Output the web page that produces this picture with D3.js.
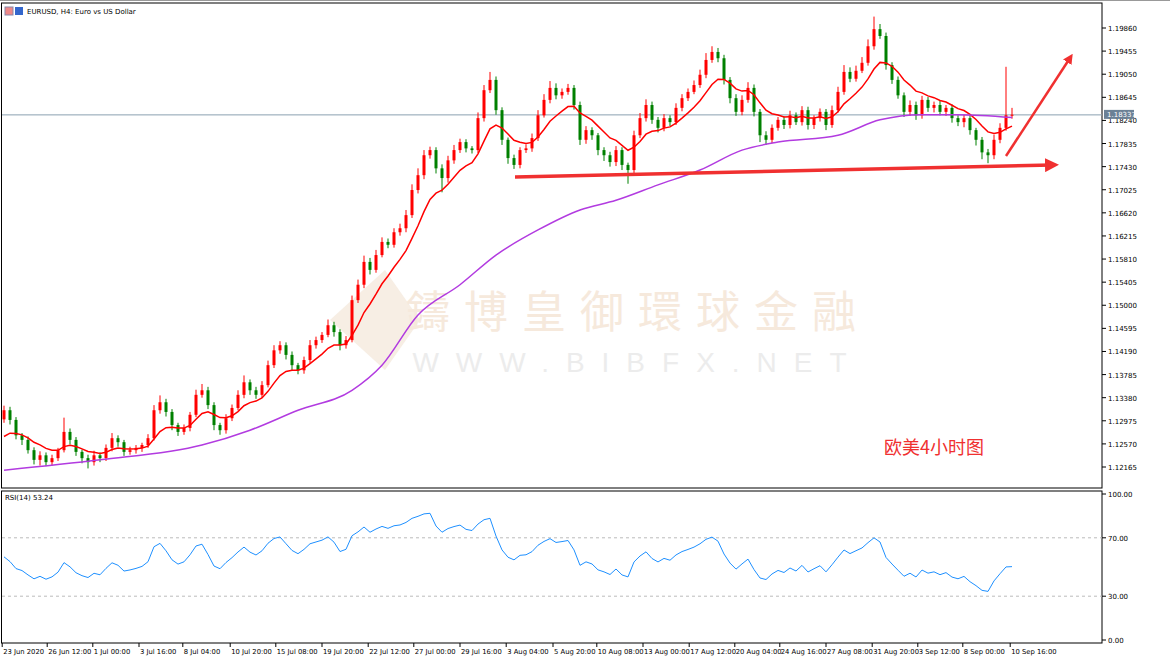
<!DOCTYPE html>
<html><head><meta charset="utf-8">
<script src="https://cdnjs.cloudflare.com/ajax/libs/d3/7.8.5/d3.min.js"></script>
<style>body{margin:0;background:#fff;}svg{display:block;font-family:Tahoma,"DejaVu Sans",sans-serif;}</style>
</head><body><svg id="chart" width="1170" height="657"></svg>
<script>
// closes (one bar per ~6 px)
const closes = [1.1316,1.1299,1.1272,1.1264,1.1246,1.1229,1.1237,1.1225,1.1232,1.1246,
1.1278,1.1264,1.1243,1.1232,1.1225,1.1237,1.1232,1.1250,1.1267,1.1260,
1.1243,1.1246,1.1250,1.1255,1.1267,1.1316,1.1330,1.1313,1.1290,1.1278,
1.1285,1.1308,1.1343,1.1351,1.1325,1.1290,1.1281,1.1302,1.1320,1.1343,
1.1365,1.1351,1.1343,1.1360,1.1395,1.1421,1.1430,1.1413,1.1395,1.1386,
1.1404,1.1430,1.1439,1.1448,1.1465,1.1453,1.1430,1.1439,1.1509,1.1536,
1.1576,1.1562,1.1588,1.1611,1.1606,1.1628,1.1635,1.1658,1.1702,1.1728,
1.1763,1.1772,1.1740,1.1723,1.1754,1.1772,1.1786,1.1775,1.1772,1.1828,
1.1877,1.1895,1.1842,1.1790,1.1758,1.1746,1.1772,1.1775,1.1793,1.1833,
1.1860,1.1881,1.1868,1.1874,1.1881,1.1851,1.1790,1.1807,1.1798,1.1772,
1.1763,1.1751,1.1772,1.1746,1.1737,1.1798,1.1828,1.1851,1.1825,1.1811,
1.1828,1.1821,1.1846,1.1863,1.1874,1.1886,1.1904,1.1930,1.1944,1.1933,
1.1895,1.1863,1.1839,1.1860,1.1881,1.1839,1.1798,1.1790,1.1811,1.1825,
1.1816,1.1833,1.1821,1.1842,1.1816,1.1828,1.1839,1.1816,1.1842,1.1874,
1.1909,1.1897,1.1911,1.1925,1.1954,1.1984,1.1972,1.1921,1.1895,1.1868,
1.1839,1.1851,1.1833,1.1860,1.1846,1.1851,1.1839,1.1846,1.1828,1.1821,
1.1828,1.1807,1.1790,1.1768,1.1763,1.1790,1.1811,1.1833,1.1834];
const firstOpen = 1.1300;
// wick lengths beyond the body, in pips
const wickUp = [8,6,5,4,6,5,7,5,6,4,25,6,5,4,6,8,5,6,9,5,4,6,5,4,7,9,12,6,5,4,6,5,9,11,6,5,4,7,6,8,
12,5,6,7,8,9,7,5,6,4,6,9,6,5,10,6,5,7,8,9,11,7,9,8,6,7,8,9,10,12,9,6,5,7,8,9,6,5,4,10,
9,14,6,5,4,6,5,7,8,9,10,12,8,6,7,5,6,7,5,4,5,6,7,5,4,8,9,10,6,5,7,5,8,7,6,8,9,12,10,7,
6,5,7,8,10,6,5,7,6,5,6,8,5,7,6,5,6,5,8,9,12,8,9,10,12,22,9,6,5,6,5,8,6,7,5,6,7,5,6,5,
6,5,4,5,6,9,8,85,12];
const wickDown = [6,8,7,9,6,8,10,7,6,5,4,8,7,9,11,6,7,5,6,8,7,5,6,7,5,4,6,8,9,7,5,6,4,5,7,9,8,6,5,4,
6,8,7,5,4,5,6,8,9,7,6,5,6,5,4,8,9,6,4,5,6,8,5,4,6,5,6,7,5,6,7,6,9,25,8,6,5,7,6,5,
6,5,8,9,10,7,6,5,6,5,4,6,7,6,5,8,9,7,8,9,10,8,7,9,24,6,5,6,7,8,6,7,5,6,5,4,5,6,5,7,
8,9,7,6,5,8,12,9,6,5,7,6,5,6,8,7,6,9,5,4,5,6,5,4,5,6,5,8,7,6,9,7,8,6,7,8,6,7,8,7,
9,8,10,12,14,7,6,5,6];
// purple slow MA: [bar index, price]
const slowMA = [[0,1.1211],[16,1.1229],[33,1.1255],[41,1.1281],[49,1.1316],[58,1.1351],[63,1.1395],
[69,1.1483],[76,1.1536],[82,1.1588],[89,1.1632],[96,1.1667],[102,1.1684],[109,1.1711],[116,1.1737],
[123,1.1772],[129,1.1786],[139,1.1798],[146,1.1825],[153,1.1834],[159,1.1834],[168,1.1829]];
const priceTicks = [1.19860,1.19455,1.19050,1.18645,1.18240,1.17835,1.17430,1.17025,1.16620,1.16215,
1.15810,1.15405,1.15000,1.14595,1.14190,1.13785,1.13380,1.12975,1.12570,1.12165];
// time labels: [bar index, text]
const timeLabels = [[-0.3,"23 Jun 2020"],[7.2,"26 Jun 12:00"],[14.8,"1 Jul 00:00"],[22.5,"3 Jul 16:00"],
[29.8,"8 Jul 04:00"],[37.7,"10 Jul 20:00"],[45.3,"15 Jul 08:00"],[53,"19 Jul 20:00"],[60.7,"22 Jul 12:00"],
[68.3,"27 Jul 00:00"],[76,"29 Jul 16:00"],[83.7,"3 Aug 04:00"],[91.5,"5 Aug 20:00"],[98.8,"10 Aug 08:00"],
[106.5,"13 Aug 00:00"],[114.2,"17 Aug 12:00"],[121.8,"20 Aug 04:00"],[129.3,"24 Aug 16:00"],[137,"27 Aug 08:00"],
[144.7,"31 Aug 20:00"],[152.3,"3 Sep 12:00"],[159.8,"8 Sep 00:00"],[167.7,"10 Sep 16:00"]];
const lastPrice = 1.18337;

const svg = d3.select("#chart");
const W = 1102, mainTop = 3, mainBot = 488, rsiTop = 491, rsiBot = 643;
const x = d3.scaleLinear().domain([0, 168]).range([4, 1012]);
const y = d3.scaleLinear().domain([1.12165, 1.19860]).range([467, 28]);
const yr = d3.scaleLinear().domain([0, 100]).range([640, 494]);

// watermark
svg.append("path").attr("d", "M330,320 L385,270 L420,320 L385,370 Z").attr("fill", "#f7eee4");
svg.append("text").attr("x", 638).attr("y", 328).attr("text-anchor", "middle")
  .attr("font-family", "Noto Sans CJK TC").attr("font-size", 44).attr("fill", "#f6e9dc")
  .attr("letter-spacing", 14).text("鑄博皇御環球金融");
svg.append("text").attr("x", 638).attr("y", 372).attr("text-anchor", "middle")
  .attr("font-family", "Arial, Liberation Sans").attr("font-size", 28).attr("fill", "#ececec")
  .attr("letter-spacing", 17).text("WWW.BIBFX.NET");

// frames
svg.append("rect").attr("x", 1.5).attr("y", mainTop).attr("width", W - 1.5).attr("height", mainBot - mainTop)
  .attr("fill", "none").attr("stroke", "#000");
svg.append("rect").attr("x", 1.5).attr("y", rsiTop).attr("width", W - 1.5).attr("height", rsiBot - rsiTop)
  .attr("fill", "none").attr("stroke", "#000");
svg.append("line").attr("x1", 0).attr("x2", 1170).attr("y1", 0.5).attr("y2", 0.5).attr("stroke", "#999");

// right price axis
const ax = svg.append("g").attr("font-size", 7).attr("fill", "#000");
priceTicks.forEach(p => {
  ax.append("line").attr("x1", W).attr("x2", W + 4).attr("y1", y(p)).attr("y2", y(p)).attr("stroke", "#000");
  ax.append("text").attr("x", W + 6).attr("y", y(p) + 3).text(p.toFixed(5));
});
[100, 70, 30, 0].forEach(v => {
  ax.append("line").attr("x1", W).attr("x2", W + 4).attr("y1", yr(v)).attr("y2", yr(v)).attr("stroke", "#000");
  ax.append("text").attr("x", W + 6).attr("y", yr(v) + 3).text(v.toFixed(2));
});
[70, 30].forEach(v => svg.append("line").attr("x1", 2).attr("x2", W).attr("y1", yr(v)).attr("y2", yr(v))
  .attr("stroke", "#bbb").attr("stroke-dasharray", "3,3"));

// bottom time axis
timeLabels.forEach(([i, t]) => {
  const px = x(i);
  svg.append("line").attr("x1", px).attr("x2", px).attr("y1", rsiBot).attr("y2", rsiBot + 4).attr("stroke", "#000");
  svg.append("text").attr("x", px + 1).attr("y", 654).attr("font-size", 6.8).text(t);
});

// last price line
svg.append("line").attr("x1", 2).attr("x2", W).attr("y1", y(lastPrice)).attr("y2", y(lastPrice)).attr("stroke", "#8aa0b0");
svg.append("rect").attr("x", W + 2).attr("y", y(lastPrice) - 5).attr("width", 30).attr("height", 9).attr("fill", "#6b8196");
svg.append("text").attr("x", W + 5).attr("y", y(lastPrice) + 2.5).attr("font-size", 7).attr("fill", "#fff").text(lastPrice.toFixed(5));

// candles
const bars = closes.map((c, i) => {
  const o = i === 0 ? firstOpen : closes[i - 1];
  return {i, o, c, h: Math.max(o, c) + wickUp[i] / 10000, l: Math.min(o, c) - wickDown[i] / 10000};
});
const cg = svg.append("g");
bars.forEach(b => {
  const col = b.c >= b.o ? "#ff0000" : "#008000";
  cg.append("line").attr("x1", x(b.i)).attr("x2", x(b.i)).attr("y1", y(b.h)).attr("y2", y(b.l)).attr("stroke", col);
  cg.append("rect").attr("x", x(b.i) - 1.5).attr("width", 3)
    .attr("y", y(Math.max(b.o, b.c))).attr("height", Math.max(1, Math.abs(y(b.o) - y(b.c)))).attr("fill", col);
});

// fast EMA
const ema = []; const k = 2 / (9 + 1);
closes.forEach((c, i) => ema.push(i === 0 ? 1.1270 : ema[i - 1] + k * (c - ema[i - 1])));
svg.append("path").datum(ema).attr("fill", "none").attr("stroke", "#ff0000").attr("stroke-width", 1.5)
  .attr("d", d3.line().x((d, i) => x(i)).y(d => y(d)));
svg.append("path").datum(slowMA).attr("fill", "none").attr("stroke", "#b23be0").attr("stroke-width", 1.5)
  .attr("d", d3.line().curve(d3.curveMonotoneX).x(d => x(d[0])).y(d => y(d[1])));

// RSI (Wilder), seeded neutral
const per = 14; let ag = 0.0012, al = 0.0010; const rsi = [];
closes.forEach((c, i) => {
  const prev = i === 0 ? firstOpen : closes[i - 1];
  const ch = c - prev, g = Math.max(ch, 0), l = Math.max(-ch, 0);
  ag = (ag * (per - 1) + g) / per; al = (al * (per - 1) + l) / per;
  rsi.push(100 - 100 / (1 + ag / al));
});
svg.append("path").datum(rsi).attr("fill", "none").attr("stroke", "#1e90ff").attr("stroke-width", 1)
  .attr("d", d3.line().x((d, i) => x(i)).y(d => yr(d)));
svg.append("text").attr("x", 5).attr("y", 500).attr("font-size", 7).text("RSI(14) 53.24");

// title
svg.append("rect").attr("x", 5).attr("y", 7).attr("width", 8).attr("height", 8).attr("fill", "#e88").attr("stroke", "#88a");
svg.append("rect").attr("x", 15).attr("y", 7).attr("width", 8).attr("height", 8).attr("fill", "#36c");
svg.append("text").attr("x", 27).attr("y", 14).attr("font-size", 7).text("EURUSD, H4:  Euro vs US Dollar");

// annotations
const defs = svg.append("defs");
defs.append("marker").attr("id", "ah").attr("viewBox", "0 0 10 10").attr("refX", 5).attr("refY", 5)
  .attr("markerWidth", 4).attr("markerHeight", 4).attr("orient", "auto")
  .append("path").attr("d", "M0,0 L10,5 L0,10 Z").attr("fill", "#f03030");
svg.append("line").attr("x1", 515).attr("y1", 177).attr("x2", 1052).attr("y2", 165)
  .attr("stroke", "#f03030").attr("stroke-width", 3.5).attr("marker-end", "url(#ah)");
svg.append("line").attr("x1", 1006).attr("y1", 156).attr("x2", 1070).attr("y2", 58)
  .attr("stroke", "#f03030").attr("stroke-width", 2.5).attr("marker-end", "url(#ah)");
svg.append("text").attr("x", 884).attr("y", 454).attr("font-family", "Noto Sans CJK SC").attr("font-size", 18)
  .attr("fill", "#f03030").text("欧美4小时图");
</script></body></html>
